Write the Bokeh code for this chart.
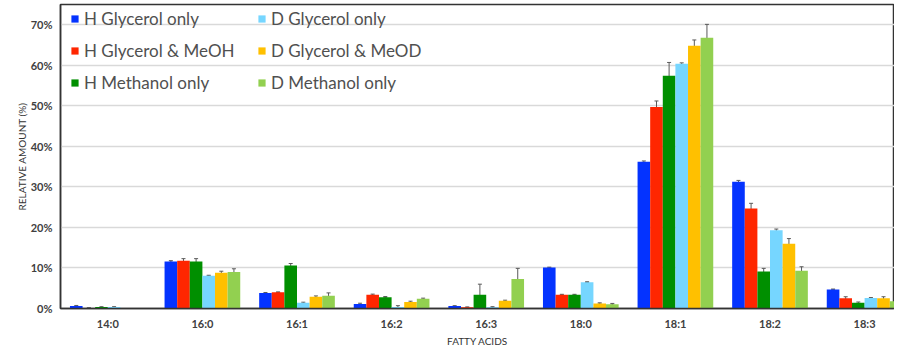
from bokeh.plotting import figure
from bokeh.models import ColumnDataSource, Whisker, TeeHead, Legend, LegendItem, FixedTicker, PrintfTickFormatter, Range1d
from bokeh.transform import dodge
from bokeh.embed import file_html
from bokeh.resources import INLINE

categories = ["14:0", "16:0", "16:1", "16:2", "16:3", "18:0", "18:1", "18:2", "18:3"]
series_names = ["H Glycerol only", "H Glycerol & MeOH", "H Methanol only",
                "D Glycerol only", "D Glycerol & MeOD", "D Methanol only"]

h_glycerol = [0.6, 11.6, 3.8, 1.1, 0.6, 10.1, 36.2, 31.3, 4.7]
h_glycerol_meoh = [0.15, 11.8, 4.0, 3.4, 0.3, 3.4, 49.7, 24.7, 2.5]
h_methanol = [0.35, 11.6, 10.6, 2.8, 3.4, 3.4, 57.4, 9.1, 1.4]
d_glycerol = [0.35, 8.1, 1.4, 0.4, 0.3, 6.5, 60.4, 19.3, 2.6]
d_glycerol_meod = [0.0, 8.8, 2.9, 1.6, 1.9, 1.25, 64.8, 16.0, 2.5]
d_methanol = [0.0, 9.0, 3.15, 2.4, 7.3, 1.05, 66.8, 9.3, 1.8]

h_glycerol_err = [0.15, 0.2, 0.15, 0.2, 0.1, 0.1, 0.2, 0.3, 0.1]
h_glycerol_meoh_err = [0.05, 0.5, 0.1, 0.15, 0.1, 0.1, 1.5, 1.25, 0.4]
h_methanol_err = [0.1, 0.7, 0.5, 0.15, 2.6, 0.1, 3.3, 0.8, 0.2]
d_glycerol_err = [0.1, 0.1, 0.15, 0.3, 0.15, 0.1, 0.2, 0.3, 0.1]
d_glycerol_meod_err = [0.0, 0.4, 0.2, 0.2, 0.15, 0.15, 1.45, 1.25, 0.4]
d_methanol_err = [0.0, 0.8, 0.7, 0.15, 2.6, 0.2, 3.3, 1.0, 0.3]

values = [h_glycerol, h_glycerol_meoh, h_methanol, d_glycerol, d_glycerol_meod, d_methanol]
errors = [h_glycerol_err, h_glycerol_meoh_err, h_methanol_err, d_glycerol_err, d_glycerol_meod_err, d_methanol_err]
colors = ["#0433FF", "#FF2600", "#008F00", "#76D6FF", "#FFC000", "#92D050"]

y_ticks = [0, 10, 20, 30, 40, 50, 60, 70]

FONT = "Lato"

p = figure(width=894, height=349, output_backend="svg", toolbar_location=None,
           x_range=Range1d(-0.5, 8.316), y_range=Range1d(0, 75),
           min_border_left=60, min_border_right=0, min_border_top=4, min_border_bottom=38)

group_w = 0.8
bw = group_w / 6
renderers = []
for k, (vals, errs, col) in enumerate(zip(values, errors, colors)):
    off = (k - 2.5) * bw
    src = ColumnDataSource(dict(
        x=list(range(len(categories))),
        top=vals,
        upper=[v + e for v, e in zip(vals, errs)],
        lower=[max(v - e, 0) for v, e in zip(vals, errs)],
    ))
    r = p.vbar(x=dodge("x", off, range=p.x_range), top="top", width=bw, source=src,
               fill_color=col, line_color=None)
    renderers.append(r)
    w = Whisker(base=dodge("x", off, range=p.x_range), upper="upper", lower="lower", source=src,
                line_color="#5a5a5a", line_width=1,
                upper_head=TeeHead(size=4, line_color="#5a5a5a", line_width=1),
                lower_head=TeeHead(size=4, line_color="#5a5a5a", line_width=1))
    p.add_layout(w)

legend = Legend(items=[LegendItem(label=n, renderers=[r]) for n, r in zip(series_names, renderers)],
                location=(10, 215), orientation="vertical", nrows=3,
                label_text_font=FONT, label_text_font_size="17px", label_text_color="#505050",
                glyph_width=9, glyph_height=9, label_standoff=5, label_height=20, label_width=162,
                spacing=11, margin=0, padding=4, border_line_color=None,
                background_fill_alpha=0, inactive_fill_alpha=0)
p.add_layout(legend)

p.outline_line_color = "#333333"
p.outline_line_width = 1.5
p.xgrid.grid_line_color = None
p.ygrid.grid_line_color = "#D9D9D9"
p.ygrid.grid_line_width = 1.3

p.xaxis.ticker = FixedTicker(ticks=list(range(len(categories))))
p.xaxis.major_label_overrides = {i: c for i, c in enumerate(categories)}
p.yaxis.ticker = FixedTicker(ticks=y_ticks)
p.yaxis.formatter = PrintfTickFormatter(format="%d%%")

for ax in (p.xaxis[0], p.yaxis[0]):
    ax.major_tick_line_color = None
    ax.minor_tick_line_color = None
    ax.axis_line_color = "#333333"
    ax.axis_line_width = 1.5
    ax.major_label_text_font = FONT
    ax.major_label_text_font_size = "11px"
    ax.major_label_text_font_style = "bold"
    ax.major_label_text_color = "#404040"
    ax.axis_label_text_font = FONT
    ax.axis_label_text_font_size = "10px"
    ax.axis_label_text_font_style = "normal"
    ax.axis_label_text_color = "#333333"

p.xaxis.axis_label = "FATTY ACIDS"
p.yaxis.axis_label = "RELATIVE AMOUNT (%)"
p.xaxis.major_label_standoff = 2
p.xaxis.axis_label_standoff = 2
p.yaxis.major_label_standoff = 2
p.yaxis.axis_label_standoff = 0

open("out.html", "w").write(file_html(p, INLINE))
